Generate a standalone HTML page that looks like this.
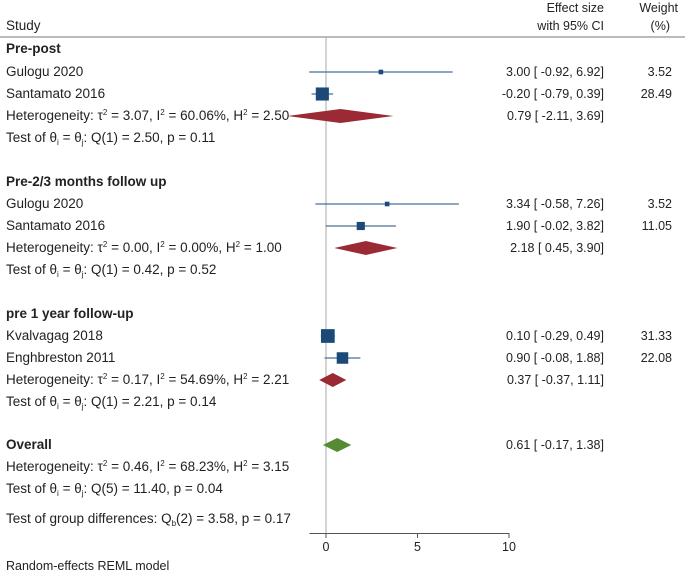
<!DOCTYPE html>
<html><head><meta charset="utf-8"><style>
body{margin:0;background:#fff}
svg{display:block;font-family:"Liberation Sans",Arial,sans-serif;font-size:12.5px;fill:#222}
.lab{font-size:13.5px}
</style></head><body>
<svg id="c" width="685" height="576">
<text x="6" y="30" class="lab">Study</text>
<text x="604" y="12" text-anchor="end">Effect size</text>
<text x="604" y="30" text-anchor="end">with 95% CI</text>
<text x="678" y="12" text-anchor="end">Weight</text>
<text x="670" y="30" text-anchor="end">(%)</text>
<line x1="0" y1="37" x2="685" y2="37" stroke="#777"/>
<text x="6" y="570">Random-effects REML model</text>
</svg>
<script>
const labels=["Pre-post","Gulogu 2020","Santamato 2016","HET1","TEST1","Pre-2/3 months follow up","Gulogu 2020","Santamato 2016","HET2","TEST2","pre 1 year follow-up","Kvalvagag 2018","Enghbreston 2011","HET3","TEST3","Overall","HET4","TEST4","GROUP"];
const kinds=["head","study","study","pool","test","head","study","study","pool","test","head","study","study","pool","test","overall","het","test","grp"];
const est=[null,3.00,-0.20,0.79,null,null,3.34,1.90,2.18,null,null,0.10,0.90,0.37,null,0.61,null,null,null];
const lo=[null,-0.92,-0.79,-2.11,null,null,-0.58,-0.02,0.45,null,null,-0.29,-0.08,-0.37,null,-0.17,null,null,null];
const hi=[null,6.92,0.39,3.69,null,null,7.26,3.82,3.90,null,null,0.49,1.88,1.11,null,1.38,null,null,null];
const weights=[null,3.52,28.49,null,null,null,3.52,11.05,null,null,null,31.33,22.08,null,null,null,null,null,null];
const hetText=["Heterogeneity: τ<tspan dy='-5' font-size='8'>2</tspan><tspan dy='5'> = 3.07, I</tspan><tspan dy='-5' font-size='8'>2</tspan><tspan dy='5'> = 60.06%, H</tspan><tspan dy='-5' font-size='8'>2</tspan><tspan dy='5'> = 2.50</tspan>",
"Heterogeneity: τ<tspan dy='-5' font-size='8'>2</tspan><tspan dy='5'> = 0.00, I</tspan><tspan dy='-5' font-size='8'>2</tspan><tspan dy='5'> = 0.00%, H</tspan><tspan dy='-5' font-size='8'>2</tspan><tspan dy='5'> = 1.00</tspan>",
"Heterogeneity: τ<tspan dy='-5' font-size='8'>2</tspan><tspan dy='5'> = 0.17, I</tspan><tspan dy='-5' font-size='8'>2</tspan><tspan dy='5'> = 54.69%, H</tspan><tspan dy='-5' font-size='8'>2</tspan><tspan dy='5'> = 2.21</tspan>",
"Heterogeneity: τ<tspan dy='-5' font-size='8'>2</tspan><tspan dy='5'> = 0.46, I</tspan><tspan dy='-5' font-size='8'>2</tspan><tspan dy='5'> = 68.23%, H</tspan><tspan dy='-5' font-size='8'>2</tspan><tspan dy='5'> = 3.15</tspan>"];
const testText=["Test of θ<tspan dy='3' font-size='8'>i</tspan><tspan dy='-3'> = θ</tspan><tspan dy='3' font-size='8'>j</tspan><tspan dy='-3'>: Q(1) = 2.50, p = 0.11</tspan>",
"Test of θ<tspan dy='3' font-size='8'>i</tspan><tspan dy='-3'> = θ</tspan><tspan dy='3' font-size='8'>j</tspan><tspan dy='-3'>: Q(1) = 0.42, p = 0.52</tspan>",
"Test of θ<tspan dy='3' font-size='8'>i</tspan><tspan dy='-3'> = θ</tspan><tspan dy='3' font-size='8'>j</tspan><tspan dy='-3'>: Q(1) = 2.21, p = 0.14</tspan>",
"Test of θ<tspan dy='3' font-size='8'>i</tspan><tspan dy='-3'> = θ</tspan><tspan dy='3' font-size='8'>j</tspan><tspan dy='-3'>: Q(5) = 11.40, p = 0.04</tspan>"];
const groupText="Test of group differences: Q<tspan dy='3' font-size='8'>b</tspan><tspan dy='-3'>(2) = 3.58, p = 0.17</tspan>";
const xTicks=[0,5,10];
const rowY=[49,72,94,116,138,182,204,226,248,270,314,336,358,380,402,445,467,489,519];
const svg=document.getElementById('c');const NS="http://www.w3.org/2000/svg";
const x=v=>326+v*18.3;
function mk(t,a,parent){const e=document.createElementNS(NS,t);for(const k in a)e.setAttribute(k,a[k]);(parent||svg).appendChild(e);return e;}
const f=v=>{const s=(v<0?"-":"")+Math.abs(v).toFixed(2);return " ".repeat(Math.max(0,6-s.length))+s;};
const fe=v=>(v<0?"-":"")+Math.abs(v).toFixed(2);
const zl=mk('line',{x1:x(0),y1:37,x2:x(0),y2:533,stroke:'#aaa'});


const ax=mk('line',{x1:x(-0.9),y1:533.5,x2:x(10),y2:533.5,stroke:'#555'});


xTicks.forEach(t=>{const tk=mk('line',{x1:x(t),y1:533,x2:x(t),y2:538,stroke:'#555'});


const tl=mk('text',{x:x(t),y:551,'text-anchor':'middle'});tl.textContent=t;

});
let hi_=0,ti_=0;
labels.forEach((lab,i)=>{const y=rowY[i],k=kinds[i];let lt;
 if(k==='head'||k==='overall'){lt=mk('text',{x:6,y:y+4,'font-weight':'bold',class:'lab'});lt.textContent=lab;}
 else if(k==='study'){lt=mk('text',{x:6,y:y+4,class:'lab'});lt.textContent=lab;}
 else if(k==='pool'||k==='het'){lt=mk('text',{x:6,y:y+4,class:'lab'});lt.innerHTML=hetText[hi_++];}
 else if(k==='test'){lt=mk('text',{x:6,y:y+4,class:'lab'});lt.innerHTML=testText[ti_++];}
 else {lt=mk('text',{x:6,y:y+4,class:'lab'});lt.innerHTML=groupText;}
 
 
 if(est[i]!==null){
  const et=mk('text',{x:604,y:y+4,'text-anchor':'end','xml:space':'preserve'});
  et.textContent=fe(est[i])+" ["+f(lo[i])+", "+f(hi[i])+"]";
  
  
  if(k==='study'){
   const cl=mk('line',{x1:x(lo[i]),y1:y,x2:x(hi[i]),y2:y,stroke:'#4a6f96','stroke-width':1.2});
   
   
   const s=2.45*Math.sqrt(weights[i]);
   const b=mk('rect',{x:x(est[i])-s/2,y:y-s/2,width:s,height:s,fill:'#1c4a78'});
   
   
   const wt=mk('text',{x:672,y:y+4,'text-anchor':'end'});wt.textContent=weights[i].toFixed(2);
   
   
  } else {
   const d=mk('polygon',{points:`${x(lo[i])},${y} ${x(est[i])},${y-7} ${x(hi[i])},${y} ${x(est[i])},${y+7}`,fill:k==='overall'?'#568a33':'#9b2a35'});
   
   
  }
 }
});
</script>
</body></html>
